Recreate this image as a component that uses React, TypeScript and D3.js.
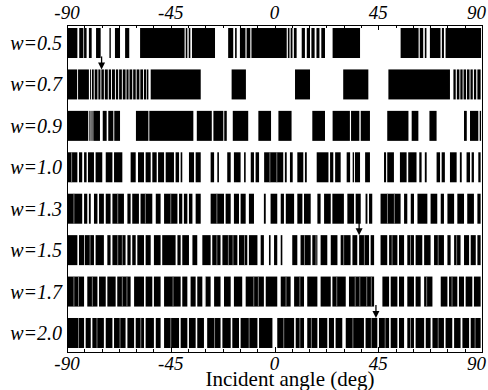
import React, { useEffect, useRef } from "react";
import * as d3 from "d3";

// rows, top to bottom
const rowLabels = ["w=0.5", "w=0.7", "w=0.9", "w=1.0", "w=1.3", "w=1.5", "w=1.7", "w=2.0"];

// black intervals [from, to] in degrees
const bandsW05: [number, number][] = [
  [-90, -85.5], [-84.7, -82.9], [-82.6, -81.5], [-80.5, -79.3], [-77.4, -75.4], [-71.6, -71.0],
  [-69.2, -67], [-64.8, -63], [-58.3, -39], [-38.5, -37.8], [-37.2, -36.5], [-35.8, -25.8],
  [-20.1, -17.9], [-17.1, -16.4], [-15, -12.6], [-12.1, -10.5], [-10, 5.3], [5.8, 6.5], [7, 7.8],
  [8.4, 9.6], [11.8, 13.2], [14, 15.4], [16, 17.4], [18.2, 19.5], [20.3, 21.9], [25.2, 37.1],
  [54.7, 62.5], [63, 64.5], [65.2, 65.9], [67.4, 72], [72.6, 73.5], [74.2, 89.6],
];
const bandsW07: [number, number][] = [
  [-90, -85.6], [-85.2, -80.5], [-80, -79.6], [-79.2, -78.4], [-78, -76.8], [-76.4, -75.5],
  [-75.1, -74], [-73.6, -72.3], [-71.9, -70.9], [-70.5, -69.2], [-68.8, -67.8], [-67.4, -66.2],
  [-65.8, -64.6], [-64.2, -63.3], [-62.9, -61.7], [-61.3, -60.2], [-59.8, -58.6], [-58.2, -57],
  [-56.6, -55.6], [-55.3, -54.7], [-53.7, -32], [-18.6, -12.4], [8.9, 15.4], [29.8, 40.7],
  [49.4, 76.1], [77.6, 78.6], [79.1, 80.2], [80.6, 81.6], [82, 83.1], [83.5, 84.6], [85, 86],
  [86.5, 87.5], [88, 89.4],
];
const bandsW09: [number, number][] = [
  [-90, -80.8], [-80.3, -79.8], [-79.4, -78.9], [-78.6, -75.7], [-74.5, -72.8], [-72.1, -69.9],
  [-69.5, -67], [-60.1, -54.7], [-54.3, -35.2], [-33.7, -27.2], [-26.5, -22.2], [-21.8, -20.7],
  [-18.1, -11.4], [-7, -1.5], [1.7, 7.4], [16.4, 21.9], [25.2, 32.7], [33.2, 36.8], [37.4, 41.4],
  [48.9, 58.1], [59.5, 62.4], [67.2, 70.3], [82.2, 83.4], [84.8, 88.4], [89, 89.6],
];
const bandsW10: [number, number][] = [
  [-90, -85.5], [-84.8, -83.4], [-82.6, -81.5], [-80.9, -78.3], [-77.6, -74.7], [-73.2, -70.3],
  [-69.6, -66], [-62.4, -60.2], [-59.2, -56.6], [-55.9, -53.7], [-53, -51.1], [-50.5, -47.9],
  [-47.2, -43.6], [-42.9, -41.4], [-40.7, -40], [-37.1, -34.9], [-34.2, -32], [-27.7, -26.2],
  [-24.8, -24.1], [-20.5, -19], [-17.6, -14.7], [-13.2, -12.5], [-10.3, -8.9], [-8.2, -6.7],
  [-4.5, 3.8], [4.5, 5.3], [6.7, 7.9], [9.9, 12.5], [13.2, 14], [18.3, 23.4], [24.1, 25.5],
  [26.3, 28.7], [31.3, 32.8], [33.9, 34.5], [34.9, 37.1], [39.3, 41.4], [47.5, 48.4], [48.9, 51.8],
  [54.4, 57.3], [58, 61.6], [62.8, 63.8], [65.2, 66], [70.3, 71.8], [72.5, 73.9], [76.1, 79],
  [80.4, 81.2], [83.3, 84.8], [85.5, 86.5], [88.4, 89.4],
];
const bandsW13: [number, number][] = [
  [-90, -83.4], [-82.6, -81.2], [-80.5, -79.7], [-78.3, -76.8], [-76.1, -74], [-73.2, -71.1],
  [-70.3, -65.3], [-63.8, -62.4], [-61.7, -58.8], [-58.1, -53], [-51.5, -49.4], [-47.9, -42.1],
  [-41.4, -40], [-39.3, -37.8], [-37.1, -35.6], [-34.2, -32], [-27.7, -21.9], [-21.2, -19],
  [-17.6, -15.4], [-14.7, -12.5], [-11.1, -8.9], [-4.6, -3.8], [-1.7, 1.2], [2.7, 4.1], [4.9, 8.5],
  [9.9, 12.1], [12.8, 15.7], [18.6, 20], [21.5, 24.4], [25.1, 30.1], [31.6, 34.5], [35.2, 37.4],
  [39.5, 40.3], [41, 42.4], [46, 54.7], [56.2, 57.6], [59.1, 60.5], [62, 66.3], [67.7, 70.6],
  [72.1, 73.5], [75, 77.9], [79.3, 82.2], [83.6, 86.5], [88, 89.4],
];
const bandsW15: [number, number][] = [
  [-90, -85.5], [-84.8, -82.6], [-82.3, -78.3], [-77.6, -74], [-72.5, -71.1], [-70.3, -64.6],
  [-63.8, -62.4], [-61.7, -60.2], [-59.5, -56.6], [-55.9, -53.7], [-52.3, -49.4], [-48.7, -42.9],
  [-42.1, -40.7], [-40, -37.1], [-35.6, -33.5], [-31.3, -27.7], [-27, -23.4], [-22.6, -16.1],
  [-15.4, -11.8], [-11.1, -7.4], [-6, -4.6], [-2.4, -1.7], [-0.2, 1.2], [2.7, 3.4], [7.7, 9.9],
  [11.3, 15.7], [16.4, 18.6], [20, 22.9], [24.4, 27.3], [28.7, 33], [33.8, 35.9], [36.7, 41],
  [41.7, 43.2], [46, 48.9], [49.7, 53.3], [54, 56.2], [57.6, 60.5], [61.2, 64.1], [64.9, 67.7],
  [69.2, 73.5], [75, 76.4], [77.9, 80.7], [82.2, 84.4], [85.1, 87.3], [88, 89.4],
];
const bandsW17: [number, number][] = [
  [-90, -82.6], [-81.2, -76.8], [-76.1, -73.2], [-72.5, -68.9], [-68.2, -62.4], [-60.9, -56.6],
  [-55.9, -53], [-52.3, -49.4], [-47.9, -40.7], [-40, -37.8], [-36.4, -34.2], [-33.5, -31.3],
  [-29.9, -27.7], [-26.2, -23.4], [-21.9, -19], [-17.6, -14], [-12.5, -4.6], [-3.8, 1.2],
  [2.7, 7], [8.5, 12.8], [14.2, 18.6], [20, 24.4], [25.1, 30.9], [32.3, 43.2], [46.8, 49.7],
  [50.4, 53.3], [54, 56.2], [57.6, 60.5], [61.2, 63.4], [64.9, 68.5], [72.1, 75], [75.7, 79.3],
  [80, 82.2], [82.9, 85.8], [86.5, 89.4],
];
const bandsW20: [number, number][] = [
  [-90, -82.6], [-81.9, -79.7], [-79, -74], [-73.2, -70.3], [-69.6, -64.6], [-63.8, -60.9],
  [-60.2, -56.6], [-55.9, -52.3], [-51.5, -49.4], [-47.9, -41.4], [-40.7, -37.8], [-37.1, -34.2],
  [-33.5, -30.6], [-29.2, -23.4], [-22.6, -19], [-18.3, -15.4], [-14.7, -7.4], [-6.7, -0.9],
  [1.2, 8.5], [9.2, 12.8], [14.2, 18.6], [19.3, 22.9], [23.6, 25.8], [26.5, 29.4], [30.9, 38.8],
  [39.5, 44.6], [45.3, 49.7], [50.4, 53.3], [54, 56.2], [57.6, 60.5], [61.2, 64.9], [65.6, 67.7],
  [68.5, 73.5], [74.2, 77.1], [77.9, 80.7], [81.5, 84.4], [85.1, 89.4],
];
const bandRows = [bandsW05, bandsW07, bandsW09, bandsW10, bandsW13, bandsW15, bandsW17, bandsW20];

// thin light lines seen inside the dark blocks
const streaksW20 = [-85, -77, -67, -58, -45, -26, -11, 4, 11, 16, 34, 42, 48, 59, 71, 87];
const streaksW17 = [-87, -85, -79, -66, -64, -44, -30, -9, -7, 5, 11, 27, 35, 37, 40, 42, 66, 77];
const streaksW15 = [-80, -68, -66, -25, -20, -18, -13, 13, 18, 30, 39, 51, 59, 71, 79];
const streaksW13 = [-87, -68, -56, -45, -25, 52, 49];
const streaksW10 = [-88, -2, 1];

const arrowRows = ["w=0.7", "w=1.5", "w=2.0"];
const arrowAngles = [-75, 36.7, 44];

const xTicks = [-90, -45, 0, 45, 90];

export default function App() {
  const svgRef = useRef<SVGSVGElement>(null);

  useEffect(() => {
    const width = 488;
    const height = 390;
    const left = 67, right = 482, top = 25, bottom = 352;
    const font = "'Liberation Serif', 'Times New Roman', serif";

    const svg = d3.select(svgRef.current)
      .attr("width", width)
      .attr("height", height)
      .attr("viewBox", `0 0 ${width} ${height}`);
    svg.selectAll("*").remove();

    const x = d3.scaleLinear().domain([-90, 90]).range([left, right]);
    const y = d3.scaleBand<string>()
      .domain(rowLabels)
      .range([22.3, 353.7])
      .paddingInner(0.276)
      .paddingOuter(0.138);

    bandRows.forEach((bands, i) => {
      const label = rowLabels[i];
      svg.append("g")
        .selectAll("rect")
        .data(bands)
        .enter()
        .append("rect")
        .attr("x", d => x(d[0]))
        .attr("y", y(label)!)
        .attr("width", d => x(d[1]) - x(d[0]))
        .attr("height", y.bandwidth())
        .attr("fill", "#000");

      svg.append("text")
        .attr("x", 62)
        .attr("y", y(label)! + y.bandwidth() / 2)
        .attr("dy", "0.35em")
        .attr("text-anchor", "end")
        .attr("font-family", font)
        .attr("font-style", "italic")
        .attr("font-size", 20)
        .text(label);
    });

    const streaks: [string, number[]][] = [
      ["w=2.0", streaksW20], ["w=1.7", streaksW17], ["w=1.5", streaksW15],
      ["w=1.3", streaksW13], ["w=1.0", streaksW10],
    ];
    streaks.forEach(([label, list]) => {
      svg.append("g")
        .selectAll("line")
        .data(list)
        .enter()
        .append("line")
        .attr("x1", d => x(d))
        .attr("x2", d => x(d))
        .attr("y1", y(label)!)
        .attr("y2", y(label)! + y.bandwidth())
        .attr("stroke", "#999")
        .attr("stroke-width", 0.8);
    });

    // frame
    svg.append("rect")
      .attr("x", left + 0.5)
      .attr("y", top + 0.5)
      .attr("width", right - left)
      .attr("height", bottom - top)
      .attr("fill", "none")
      .attr("stroke", "#000")
      .attr("stroke-width", 1);

    // ticks (minor every 7.5 deg)
    const minor = d3.range(-90, 90.1, 7.5);
    svg.append("g")
      .selectAll("line")
      .data(minor)
      .enter()
      .append("line")
      .attr("x1", d => Math.round(x(d)) + 0.5)
      .attr("x2", d => Math.round(x(d)) + 0.5)
      .attr("y1", top)
      .attr("y2", d => top + (d % 45 === 0 ? 5 : 3))
      .attr("stroke", "#000");
    svg.append("g")
      .selectAll("line")
      .data(minor)
      .enter()
      .append("line")
      .attr("x1", d => Math.round(x(d)) + 0.5)
      .attr("x2", d => Math.round(x(d)) + 0.5)
      .attr("y1", bottom)
      .attr("y2", d => bottom - (d % 45 === 0 ? 5 : 3))
      .attr("stroke", "#000");

    [19, 370].forEach(ty => {
      svg.append("g")
        .selectAll("text")
        .data(xTicks)
        .enter()
        .append("text")
        .attr("x", d => (d === 90 ? 486 : x(d)))
        .attr("y", ty)
        .attr("text-anchor", d => (d === 90 ? "end" : "middle"))
        .attr("font-family", font)
        .attr("font-style", "italic")
        .attr("font-size", 19)
        .text(d => String(d));
    });

    svg.append("text")
      .attr("x", 290)
      .attr("y", 386)
      .attr("text-anchor", "middle")
      .attr("font-family", font)
      .attr("font-size", 21)
      .text("Incident angle (deg)");

    // arrows pointing at the marked angles
    arrowRows.forEach((label, i) => {
      const ax = x(arrowAngles[i]);
      const tip = y(label)!;
      svg.append("line")
        .attr("x1", ax)
        .attr("x2", ax)
        .attr("y1", tip - 13)
        .attr("y2", tip - 5)
        .attr("stroke", "#000")
        .attr("stroke-width", 1.3);
      svg.append("path")
        .attr("d", `M${ax - 3.5},${tip - 7} L${ax + 3.5},${tip - 7} L${ax},${tip} Z`)
        .attr("fill", "#000");
    });
  }, []);

  return <svg ref={svgRef} style={{ position: "absolute", left: 0, top: 0, background: "#fff" }} />;
}
